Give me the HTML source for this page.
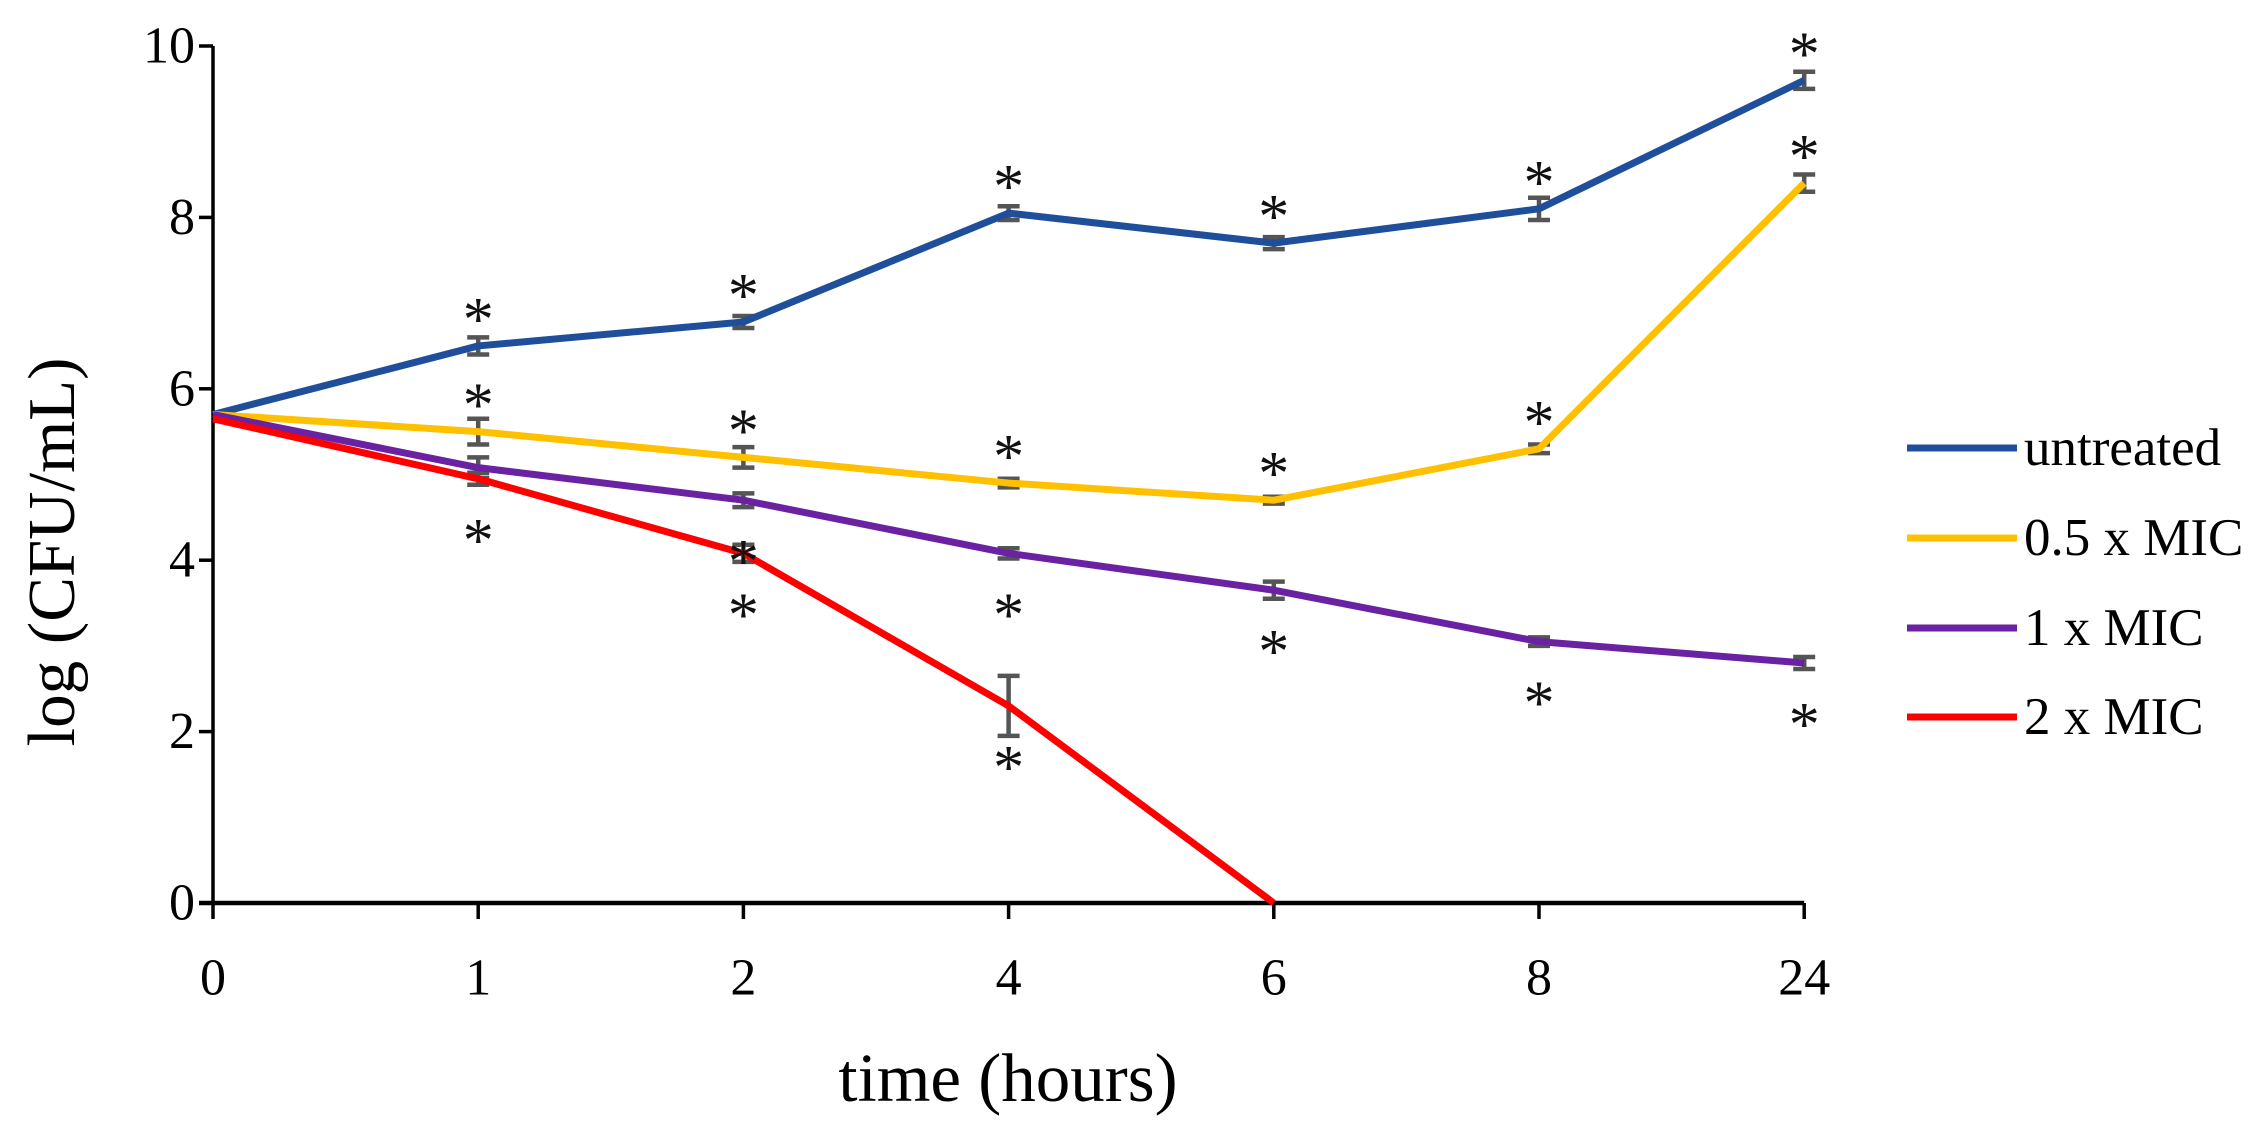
<!DOCTYPE html>
<html><head><meta charset="utf-8"><style>
html,body{margin:0;padding:0;background:#fff;}
svg{display:block;font-family:"Liberation Serif",serif;}
</style></head><body>
<svg id="chart" width="2255" height="1131" viewBox="0 0 2255 1131" xmlns="http://www.w3.org/2000/svg">
<g id="axes"></g>
<g id="series"></g>
<g id="legend"></g>
<text x="1008" y="1078" font-size="69" text-anchor="middle" dominant-baseline="central" fill="#000">time (hours)</text>
<text x="0" y="0" font-size="67" text-anchor="middle" dominant-baseline="central" fill="#000" transform="translate(52,552) rotate(-90)">log (CFU/mL)</text>
</svg>
<script>
const categories = ["0","1","2","4","6","8","24"];
const yTicks = [0,2,4,6,8,10];
const seriesNames = ["untreated","0.5 x MIC","1 x MIC","2 x MIC"];
const untreated = [5.7,6.5,6.78,8.05,7.7,8.1,9.6];
const half = [5.7,5.5,5.2,4.9,4.7,5.3,8.4];
const oneX = [5.7,5.08,4.7,4.08,3.65,3.05,2.8];
const twoX = [5.65,4.95,4.08,2.3,0];
const errUntreated = [0,0.1,0.07,0.08,0.07,0.13,0.1];
const errHalf = [0,0.15,0.12,0.05,0.04,0.05,0.1];
const errOne = [0,0.12,0.08,0.06,0.1,0.05,0.07];
const errTwo = [0,0.07,0.1,0.35,0];
// asterisk positions: [categoryIndex, seriesIndex, side(+1 above, -1 below)]
const stars = [[1,0,1],[2,0,1],[3,0,1],[4,0,1],[5,0,1],[6,0,1],
 [1,1,1],[2,1,1],[3,1,1],[4,1,1],[5,1,1],[6,1,1],
 [2,2,-1],[3,2,-1],[4,2,-1],[5,2,-1],[6,2,-1],
 [1,3,-1],[2,3,-1],[3,3,-1]];

const NS="http://www.w3.org/2000/svg";
const X0=213, DX=265.2, Y0=903, Y10=46;
const xs=i=>X0+DX*i;
const ys=v=>Y0-(Y0-Y10)*v/10;
function mk(tag,attrs,parent){const e=document.createElementNS(NS,tag);for(const k in attrs)e.setAttribute(k,attrs[k]);parent.appendChild(e);return e;}
const axes=document.getElementById('axes'), ser=document.getElementById('series'), leg=document.getElementById('legend');

let e=mk('line',{x1:X0,y1:Y10,x2:X0,y2:Y0,stroke:'#000','stroke-width':3.5},axes);


e=mk('line',{x1:X0-14,y1:Y0,x2:xs(6),y2:Y0,stroke:'#000','stroke-width':4.5},axes);


yTicks.forEach(v=>{
 const t=mk('line',{x1:X0-14,y1:ys(v),x2:X0,y2:ys(v),stroke:'#000','stroke-width':3.5},axes);
 
 
 const l=mk('text',{x:X0-18,y:ys(v),'font-size':52,'text-anchor':'end','dominant-baseline':'central',fill:'#000'},axes);
 l.textContent=v;
 
 
});
categories.forEach((c,i)=>{
 const t=mk('line',{x1:xs(i),y1:Y0,x2:xs(i),y2:Y0+16,stroke:'#000','stroke-width':3.5},axes);
 
 
 const l=mk('text',{x:xs(i),y:978,'font-size':52,'text-anchor':'middle','dominant-baseline':'central',fill:'#000'},axes);
 l.textContent=c;
 
 
});

const data=[untreated,half,oneX,twoX];
const errs=[errUntreated,errHalf,errOne,errTwo];
const colors=['#1f4e9a','#ffc000','#6a22a2','#ff0000'];
const names=['line-untreated','line-half-mic','line-1x-mic','line-2x-mic'];
data.forEach((d,s)=>{
 errs[s].forEach((er,i)=>{
  if(er<=0)return;
  const g=mk('path',{d:`M${xs(i)},${ys(d[i]+er)}V${ys(d[i]-er)}M${xs(i)-11},${ys(d[i]+er)}h22M${xs(i)-11},${ys(d[i]-er)}h22`,stroke:'#555','stroke-width':4.5,fill:'none'},ser);
  
  
 });
});
data.forEach((d,s)=>{
 const p=mk('polyline',{points:d.map((v,i)=>xs(i)+','+ys(v)).join(' '),fill:'none',stroke:colors[s],'stroke-width':7,'stroke-linejoin':'round'},ser);
 
 
});
stars.forEach(([i,s,side])=>{
 const v=data[s][i];
 const t=mk('text',{x:xs(i),y:ys(v)-side*44+18,'font-size':62,'text-anchor':'middle','dominant-baseline':'central',fill:'#111'},ser);
 t.textContent='*';
 
 
});
const legY=[448,538,628,717];
seriesNames.forEach((n,s)=>{
 const g=mk('g',{},leg);
 
 
 mk('line',{x1:1907,y1:legY[s],x2:2017,y2:legY[s],stroke:colors[s],'stroke-width':7},g);
 const t=mk('text',{x:2024,y:legY[s],'font-size':53,'dominant-baseline':'central',fill:'#000'},g);
 t.textContent=n;
});
</script>
</body></html>
